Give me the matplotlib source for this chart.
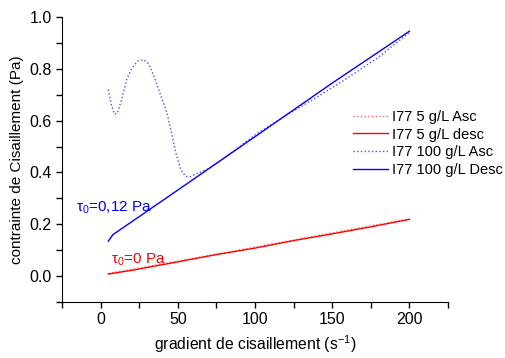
import matplotlib
matplotlib.use("Agg")
import matplotlib.pyplot as plt
from matplotlib.ticker import MultipleLocator

plt.rcParams['font.family'] = ['Liberation Sans', 'DejaVu Sans']
plt.rcParams['mathtext.fontset'] = 'custom'
plt.rcParams['mathtext.rm'] = 'Liberation Sans'
plt.rcParams['mathtext.it'] = 'Liberation Sans:italic'
plt.rcParams['mathtext.default'] = 'regular'

# Data
x_red_asc = [5, 50, 100, 150, 200]
y_red_asc = [0.010, 0.058, 0.112, 0.167, 0.221]

x_red_desc = [5, 20, 50, 75, 100, 125, 150, 175, 200]
y_red_desc = [0.008, 0.022, 0.055, 0.083, 0.108, 0.137, 0.163, 0.190, 0.219]

x_blue_asc = [5, 7, 9, 11, 14, 17, 20, 24, 28, 31, 34, 37, 40, 43, 46, 49, 52,
              55, 58, 62, 66, 70, 80, 100, 120, 140, 160, 180, 200]
y_blue_asc = [0.72, 0.66, 0.625, 0.63, 0.69, 0.76, 0.80, 0.83, 0.835, 0.82, 0.78,
              0.73, 0.68, 0.63, 0.55, 0.47, 0.41, 0.385, 0.384, 0.395, 0.405,
              0.415, 0.455, 0.545, 0.62, 0.69, 0.765, 0.845, 0.94]

x_blue_desc = [5, 8, 50, 100, 150, 200]
y_blue_desc = [0.135, 0.16, 0.332, 0.538, 0.745, 0.945]

labels = ["I77 5 g/L Asc", "I77 5 g/L desc", "I77 100 g/L Asc", "I77 100 g/L Desc"]

fig = plt.figure(figsize=(5.05, 3.58), dpi=100)
ax = fig.add_axes([62/505, 1-302/358, (448-62)/505, (302-17)/358])

ax.plot(x_red_asc, y_red_asc, color='#ff0000', lw=1.0, ls=':', alpha=0.6, label=labels[0])
ax.plot(x_red_desc, y_red_desc, color='#ff0000', lw=1.0, label=labels[1])
ax.plot(x_blue_asc, y_blue_asc, color='#0000ff', lw=1.0, ls=':', alpha=0.7, label=labels[2])
ax.plot(x_blue_desc, y_blue_desc, color='#0000ff', lw=1.0, label=labels[3])

ax.set_xlim(-25, 225)
ax.set_ylim(-0.1, 1.0)
ax.xaxis.set_major_locator(MultipleLocator(50))
ax.xaxis.set_minor_locator(MultipleLocator(25))
ax.yaxis.set_minor_locator(MultipleLocator(0.1))
ax.set_yticks([0.0, 0.2, 0.4, 0.6, 0.8, 1.0])
ax.set_yticklabels(["0.0", "0.2", "0.4", "0.6", "0.8", "1.0"])
ax.tick_params(which='both', direction='out', length=4, width=1, labelsize=11.5)
ax.spines['top'].set_visible(False)
ax.spines['right'].set_visible(False)

ax.set_xlabel("gradient de cisaillement (s$^{-1}$)", fontsize=11.3)
ax.set_ylabel("contrainte de Cisaillement (Pa)", fontsize=11)

ax.text(-16, 0.262, "τ$_0$=0,12 Pa", color='#0000ff', fontsize=11, va='center')
ax.text(7, 0.063, "τ$_0$=0 Pa", color='#ff0000', fontsize=11, va='center')

leg = ax.legend(loc='upper left', bbox_to_anchor=(0.72, 0.72), frameon=False,
                fontsize=10.5, handlelength=2.4, handletextpad=0.3, labelspacing=0.25)

fig.savefig("out.png", dpi=100)
